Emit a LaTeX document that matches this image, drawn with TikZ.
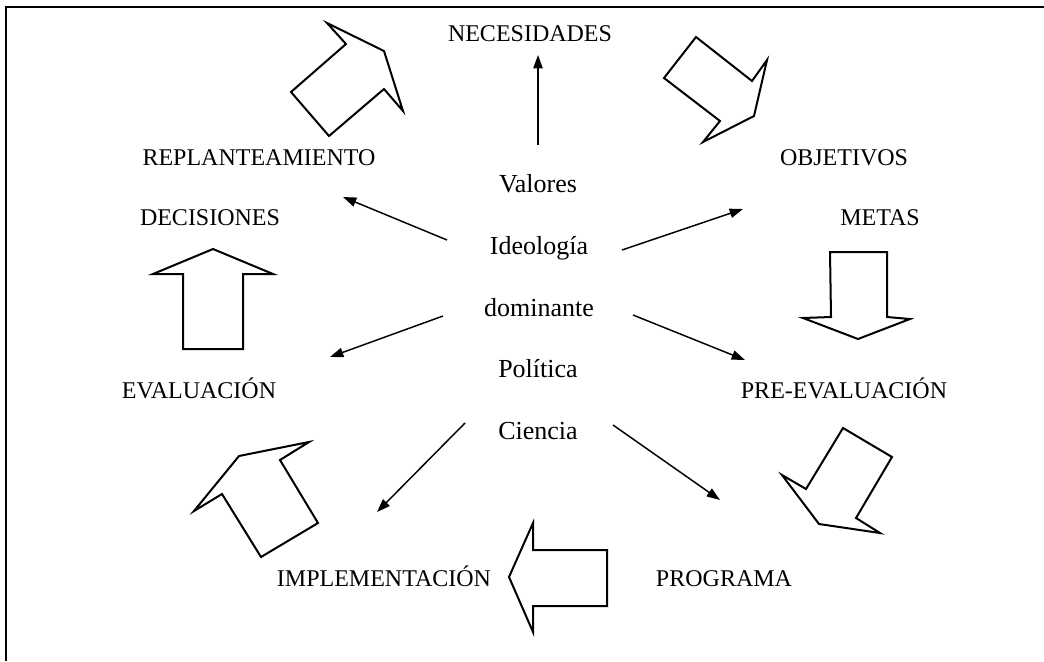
\documentclass[tikz,border=0pt]{standalone}
\usepackage{fontspec}
\setmainfont{Liberation Serif}
\usetikzlibrary{arrows.meta}
\begin{document}
\begin{tikzpicture}[x=0.75pt,y=-0.75pt,
  lbl/.style={anchor=base,inner sep=0pt,font=\fontsize{18}{20}\selectfont},
  mid/.style={anchor=base,inner sep=0pt,font=\fontsize{19.5}{22}\selectfont},
  thin/.style={line width=1.1pt,-{Triangle[length=10pt,width=7pt]}},
  blockarrow/.style={draw,line width=1.5pt,line join=miter,fill=white},
  frame/.style={line width=1.4pt}]
\useasboundingbox (0,0) rectangle (1044,661);
\draw[frame] (1044,7) -- (6,7) -- (6,661);

% labels
\node[lbl] (nec) at (530,41) {NECESIDADES};
\node[lbl] (rep) at (259,165) {REPLANTEAMIENTO};
\node[lbl] (obj) at (844,165) {OBJETIVOS};
\node[lbl] (dec) at (210,225) {DECISIONES};
\node[lbl] (met) at (880,225) {METAS};
\node[lbl] (eva) at (199,398) {EVALUACIÓN};
\node[lbl] (pre) at (844,398) {PRE-EVALUACIÓN};
\node[lbl] (imp) at (384,586) {IMPLEMENTACIÓN};
\node[lbl] (pro) at (724,586) {PROGRAMA};

\node[mid] (val) at (538,192) {Valores};
\node[mid] (ide) at (539,254) {Ideología};
\node[mid] (dom) at (539,316) {dominante};
\node[mid] (pol) at (538,377) {Política};
\node[mid] (cie) at (538,439) {Ciencia};

% arrow end points
\coordinate (a1s) at (538,145); \coordinate (a1e) at (538,55);
\coordinate (a2s) at (447,240); \coordinate (a2e) at (343,197);
\coordinate (a3s) at (622,250); \coordinate (a3e) at (743,209);
\coordinate (a4s) at (443,316); \coordinate (a4e) at (330,357);
\coordinate (a5s) at (633,315); \coordinate (a5e) at (745,360);
\coordinate (a6s) at (465,423); \coordinate (a6e) at (377,512);
\coordinate (a7s) at (613,425); \coordinate (a7e) at (720,500);
\draw[thin] (a1s) -- (a1e);
\draw[thin] (a2s) -- (a2e);
\draw[thin] (a3s) -- (a3e);
\draw[thin] (a4s) -- (a4e);
\draw[thin] (a5s) -- (a5e);
\draw[thin] (a6s) -- (a6e);
\draw[thin] (a7s) -- (a7e);

% block arrows
\draw[blockarrow] (327,23) -- (346,44) -- (291,92) -- (329,136) -- (384,89) -- (403,111) -- (384,51) -- cycle;
\draw[blockarrow] (696,37) -- (752,81) -- (767,60) -- (754,116) -- (703,142) -- (720,121) -- (664,78) -- cycle;
\draw[blockarrow] (830,252) -- (887,252) -- (887,317) -- (910,319) -- (858,339) -- (803,318) -- (831,317) -- cycle;
\draw[blockarrow] (843,428) -- (892,457) -- (856,518) -- (880,533) -- (819,524) -- (782,475) -- (806,489) -- cycle;
\draw[blockarrow] (509,577) -- (533,523) -- (533,550) -- (607,550) -- (607,606) -- (533,606) -- (533,632) -- cycle;
\draw[blockarrow] (239,456) -- (309,442) -- (280,460) -- (318,523) -- (261,557) -- (222,494) -- (194,511) -- cycle;
\draw[blockarrow] (213,249) -- (273,274) -- (243,274) -- (243,349) -- (183,349) -- (183,274) -- (153,274) -- cycle;
\end{tikzpicture}
\end{document}
